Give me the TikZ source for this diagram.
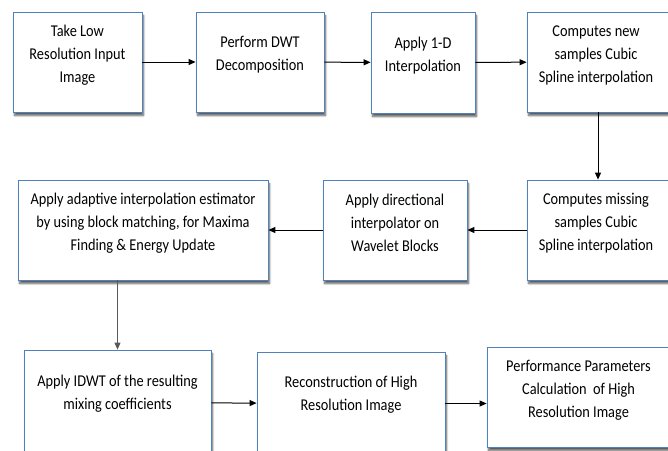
\documentclass[tikz,border=0pt]{standalone}
\usepackage{fontspec}
\setmainfont{Carlito}[FakeStretch=0.87]
\usepackage{tikz}
\usetikzlibrary{arrows.meta,shadows.blur}

\definecolor{boxblue}{RGB}{79,129,189}

\tikzset{
    box/.style={draw=boxblue,line width=0.8pt,fill=white,minimum height=100,
        inner sep=0pt,blur shadow={shadow xshift=1.5pt,shadow yshift=-3.5pt,shadow blur steps=6,shadow opacity=65}},
    txt/.style={align=center,font=\fontsize{16.5}{23}\selectfont,inner sep=0pt}
}

\begin{document}
\begin{tikzpicture}[x=1pt,y=-1pt]
    \useasboundingbox (0,0) rectangle (668,450);

        \begin{scope}[every node/.style={box}]
            \node[minimum width=129] (take) at (77.5,62) {};
            \node[minimum width=128] (dwt) at (260,62) {};
            \node[minimum width=104,minimum height=101] (interp) at (423,62.5) {};
            \node[minimum width=142] (newsamp) at (598,62) {};
            \node[minimum width=142] (missing) at (598,230) {};
            \node[minimum width=144] (direct) at (395,230) {};
            \node[minimum width=250] (adaptive) at (143,230) {};
            \node[minimum width=187,minimum height=105] (idwt) at (117.5,402.5) {};
            \node[minimum width=188,minimum height=103] (recon) at (351,403.5) {};
            \node[minimum width=183] (perf) at (578.5,397) {};
        \end{scope}

        \begin{scope}[every node/.style={txt}]
            \node (take-t) at ([yshift=7pt]take.center) {Take Low\\Resolution Input\\Image};
            \node (dwt-t) at ([yshift=7pt]dwt.center) {Perform DWT\\Decomposition};
            \node (interp-t) at ([yshift=7pt]interp.center) {Apply 1-D\\Interpolation};
            \node (newsamp-t) at ([xshift=-2pt,yshift=7pt]newsamp.center) {Computes new\\samples Cubic\\Spline interpolation};
            \node (missing-t) at ([xshift=-2pt,yshift=7pt]missing.center) {Computes missing\\samples Cubic\\Spline interpolation};
            \node (direct-t) at ([yshift=7pt]direct.center) {Apply directional\\interpolator on\\Wavelet Blocks};
            \node (adaptive-t) at ([yshift=7pt]adaptive.center) {Apply adaptive interpolation estimator\\by using block matching, for Maxima\\Finding \& Energy Update};
            \node (idwt-t) at ([yshift=9pt]idwt.center) {Apply IDWT of the resulting\\mixing coefficients};
            \node (recon-t) at ([yshift=9pt]recon.center) {Reconstruction of High\\Resolution Image};
            \node (perf-t) at ([yshift=7pt]perf.center) {Performance Parameters\\Calculation~ of High\\Resolution Image};
        \end{scope}

        \begin{scope}[every edge/.style={draw,line width=1pt}, >={Triangle[length=7pt,width=6pt]}]
            \path [->] (take) edge (dwt);
            \path [->] (dwt) edge (interp);
            \path [->] (interp) edge (newsamp);
            \path [->] (newsamp) edge (missing);
            \path [->] (missing) edge (direct);
            \path [->] (direct) edge (adaptive);
            \path [->] (adaptive.south -| idwt.north) edge[draw=black!65] (idwt.north);
            \path [->] (idwt) edge (recon);
            \path [->] (recon.east) edge (recon.east -| perf.west);
        \end{scope}

\end{tikzpicture}
\end{document}
